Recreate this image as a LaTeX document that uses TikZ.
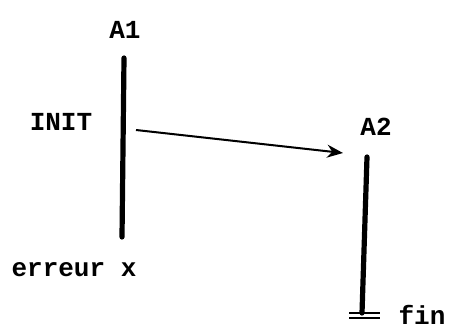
\documentclass[tikz,border=0pt]{standalone}
\usepackage{fontspec}
\setmonofont{Liberation Mono}
\usetikzlibrary{arrows.meta}

\begin{document}
\begin{tikzpicture}[x=0.5pt, y=0.5pt,
        lbl/.style = {font=\ttfamily\bfseries\fontsize{13}{15}\selectfont, inner sep=0pt},
        bar/.style = {line width=2.6pt, line cap=round},
        stop/.style = {line width=0.9pt},
        msg/.style = {line width=1pt, -{Stealth[length=8pt, width=6.5pt]}}]
        \useasboundingbox (0, 0) rectangle (449, 328);

        \node[lbl] (a1) at (125, 298) {A1};
        \node[lbl] (init) at (61, 206) {INIT};
        \node[lbl] (err) at (74, 58) {erreur x};
        \node[lbl] (a2) at (376, 201) {A2};
        \node[lbl] (fin) at (422, 13) {fin};

        \coordinate (a1top) at (124, 270);
        \coordinate (a1bot) at (122, 91);
        \coordinate (a2top) at (367, 171);
        \coordinate (a2bot) at (362, 15);

        \coordinate (src) at (136, 198);
        \coordinate (dst) at (343, 175);

        % lifelines
        \draw[bar] (a1top) -- (a1bot);
        \draw[bar] (a2top) -- (a2bot);

        % end marker
        \draw[stop] (349, 15) -- (380, 15);
        \draw[stop] (349, 10) -- (380, 10);

        \draw[msg] (src) -- (dst);
    \end{tikzpicture}
\end{document}
